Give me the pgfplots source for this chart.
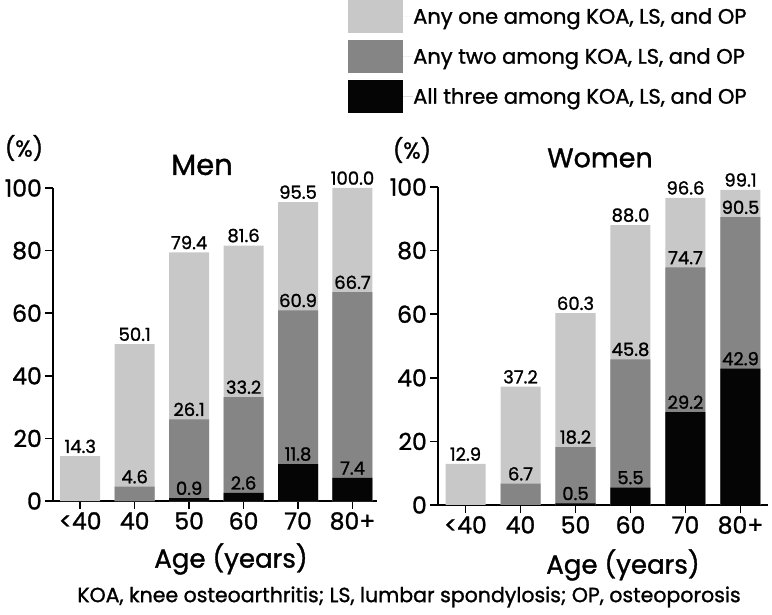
\documentclass[border=0pt]{standalone}
\usepackage{fontspec}
\setmainfont{Poppins}[FakeBold=1.2]
\usepackage{pgfplots}
\pgfplotsset{compat=1.18}
\definecolor{cOne}{HTML}{C8C8C8}
\definecolor{cTwo}{HTML}{858585}
\definecolor{cThree}{HTML}{050505}
\pgfplotsset{
  mybars/.style={
    scale only axis,
    xmin=-0.5, ymin=0, ymax=100,
    axis x line=bottom, axis y line=left,
    axis line style={-, line width=1.5pt},
    ytick={0,20,...,100},
    xtick={0,...,5},
    xticklabels={{<40},40,50,60,70,80+},
    tick align=outside,
    major tick length=8pt,
    tick style={line width=1.5pt, black},
    tick label style={font=\fontsize{23.5}{26}\selectfont},
    yticklabel style={inner xsep=3pt},
    xticklabel style={inner ysep=3pt},
    /pgf/number format/assume math mode=true,
    ybar, bar width=40pt, bar shift=0pt,
    point meta=explicit symbolic,
    nodes near coords,
    nodes near coords style={font=\fontsize{18}{20}\selectfont, black, inner sep=3pt},
    legend image code/.code={\fill[#1] (0pt,-16.5pt) rectangle (55pt,16.5pt); \path (0pt,0pt) -- (65pt,0pt);},
    clip=false,
  }
}
\begin{document}
\begin{tikzpicture}
\useasboundingbox (0,0) rectangle (772pt,614pt);
% Men
\begin{axis}[mybars, at={(53pt,113pt)}, anchor=south west,
  width=324pt, height=313pt, xmax=5.45,
  legend style={at={(0.9105,1.6006)}, anchor=north west, draw=none, fill=none,
    inner sep=0pt, row sep=7pt, font=\fontsize{21}{23}\selectfont,
    nodes={inner sep=0pt}},
  legend cell align=left]
\addplot[fill=cOne, draw=none, bar shift=0pt] coordinates {
  (0,14.3) [14.3] (1,50.1) [50.1] (2,79.4) [79.4] (3,81.6) [81.6] (4,95.5) [95.5] (5,100.0) [100.0]};
\addplot[fill=cTwo, draw=none, bar shift=0pt] coordinates {
  (1,4.6) [4.6] (2,26.1) [26.1] (3,33.2) [33.2] (4,60.9) [60.9] (5,66.7) [66.7]};
\addplot[fill=cThree, draw=none, bar shift=0pt] coordinates {
  (2,0.9) [0.9] (3,2.6) [2.6] (4,11.8) [11.8] (5,7.4) [7.4]};
\legend{{Any one among KOA, LS, and OP}, {Any two among KOA, LS, and OP}, {All three among KOA, LS, and OP}}
\end{axis}
% Women
\begin{axis}[mybars, at={(438pt,109pt)}, anchor=south west,
  width=330pt, height=318pt, xmax=5.5]
\addplot[fill=cOne, draw=none, bar shift=0pt] coordinates {
  (0,12.9) [12.9] (1,37.2) [37.2] (2,60.3) [60.3] (3,88.0) [88.0] (4,96.6) [96.6] (5,99.1) [99.1]};
\addplot[fill=cTwo, draw=none, bar shift=0pt] coordinates {
  (1,6.7) [6.7] (2,18.2) [18.2] (3,45.8) [45.8] (4,74.7) [74.7] (5,90.5) [90.5]};
\addplot[fill=cThree, draw=none, bar shift=0pt] coordinates {
  (2,0.5) [0.5] (3,5.5) [5.5] (4,29.2) [29.2] (5,42.9) [42.9]};
\end{axis}
\node[font=\fontsize{23}{25}\selectfont] at (24pt,466pt) {(\%)};
\node[font=\fontsize{23}{25}\selectfont] at (412pt,464pt) {(\%)};
\node[font=\fontsize{29}{32}\selectfont] at (202pt,449pt) {Men};
\node[font=\fontsize{27}{30}\selectfont] at (600pt,456pt) {Women};
\node[font=\fontsize{26}{29}\selectfont] at (231pt,55pt) {Age (years)};
\node[font=\fontsize{26}{29}\selectfont] at (623pt,49pt) {Age (years)};
\node[font=\fontsize{20.5}{23}\selectfont] at (409pt,17pt) {KOA, knee osteoarthritis; LS, lumbar spondylosis; OP, osteoporosis};
\end{tikzpicture}
\end{document}
